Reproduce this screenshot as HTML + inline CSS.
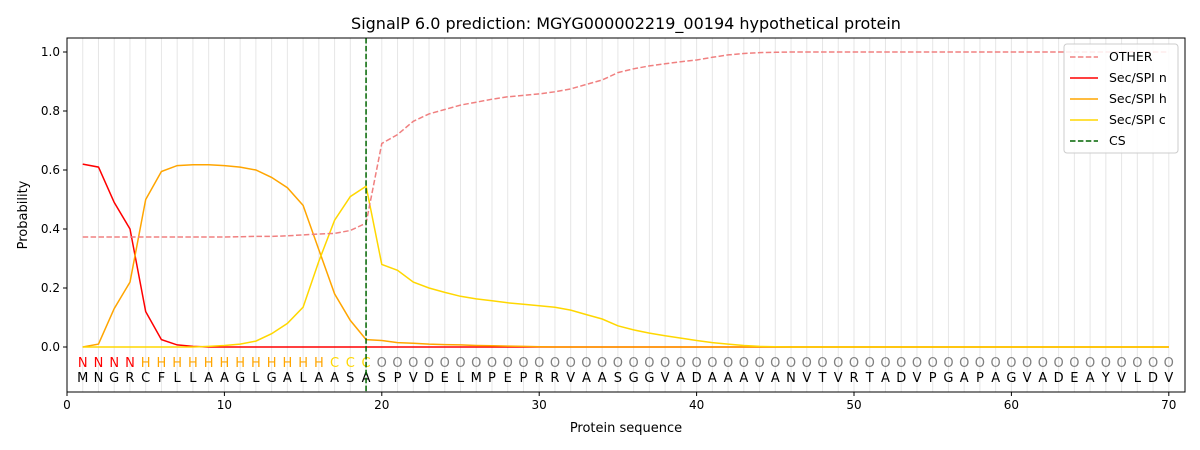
<!DOCTYPE html>
<html><head><meta charset="utf-8"><style>
body{margin:0;background:#fff;}
svg{display:block;font-family:"DejaVu Sans","Liberation Sans",sans-serif;}
</style></head><body>
<svg id="chart" width="1200" height="450"></svg>
<script>
const seq = "MNGRCFLLAAGLGALAASASPVDELMPEPRRVAASGGVADAAAVANVTVRTADVPGAPAGVADEAYVLDV".split("");
const labels = "NNNNHHHHHHHHHHHHCCC".split("").concat(Array(51).fill("O"));
const other = [0.373,0.373,0.373,0.373,0.373,0.373,0.373,0.373,0.373,0.373,0.374,0.375,0.375,0.377,0.38,0.383,0.385,0.395,0.42,0.69,0.72,0.765,0.79,0.805,0.82,0.83,0.84,0.848,0.853,0.858,0.865,0.875,0.89,0.905,0.93,0.943,0.953,0.96,0.967,0.973,0.982,0.99,0.995,0.998,0.999,1,1,1,1,1,1,1,1,1,1,1,1,1,1,1,1,1,1,1,1,1,1,1,1,1];
const secN = [0.62,0.61,0.49,0.40,0.12,0.025,0.007,0.002].concat(Array(62).fill(0));
const secH = [0,0.01,0.13,0.22,0.5,0.595,0.615,0.618,0.618,0.615,0.61,0.6,0.575,0.54,0.48,0.33,0.18,0.09,0.025,0.022,0.015,0.013,0.01,0.008,0.007,0.005,0.004,0.003,0.002,0.001].concat(Array(40).fill(0));
const secC = [0,0,0,0,0,0,0,0,0.002,0.005,0.01,0.02,0.045,0.08,0.135,0.29,0.43,0.51,0.545,0.28,0.26,0.22,0.2,0.185,0.172,0.163,0.157,0.15,0.145,0.14,0.135,0.125,0.11,0.095,0.072,0.058,0.047,0.038,0.03,0.022,0.015,0.01,0.005,0.002,0.001].concat(Array(25).fill(0));
const xTicks = [0,10,20,30,40,50,60,70];
const yTicks = [0,0.2,0.4,0.6,0.8,1.0];
const csPos = 19;

const L=67,R=1185,T=38,B=392;
const x = v => L + v*15.74;
const y = v => 347 - v*295;
const svg = document.getElementById('chart');
const NS="http://www.w3.org/2000/svg";
function mk(tag, attrs, parent){const e=document.createElementNS(NS,tag);for(const k in attrs)e.setAttribute(k,attrs[k]);(parent||svg).appendChild(e);return e;}

for(let i=1;i<=70;i++){
  const g=mk('line',{x1:x(i),x2:x(i),y1:T,y2:B,stroke:'#e6e6e6','stroke-width':1});
  
  
}
const t=mk('text',{x:626,y:29,'text-anchor':'middle','font-size':16,fill:'#000'});
t.textContent='SignalP 6.0 prediction: MGYG000002219_00194 hypothetical protein';



const lc={N:'#ff0000',H:'#ffa500',C:'#ffd700',O:'#808080'};
for(let i=0;i<70;i++){
  const a=mk('text',{x:x(i+1),y:367,'text-anchor':'middle','font-size':13,fill:lc[labels[i]]});
  a.textContent=labels[i];
  
  
  const b=mk('text',{x:x(i+1),y:382,'text-anchor':'middle','font-size':13,fill:'#000'});
  b.textContent=seq[i];
  
  
}

function line(data,color,dash,name){
  const pts=data.map((v,i)=>x(i+1).toFixed(1)+','+y(v).toFixed(1)).join(' ');
  const p=mk('polyline',{points:pts,fill:'none',stroke:color,'stroke-width':1.5});
  if(dash)p.setAttribute('stroke-dasharray',dash);
  
  
}
line(secN,'#ff0000',null,'sec-spi-n-line');
line(secH,'#ffa500',null,'sec-spi-h-line');
line(secC,'#ffd700',null,'sec-spi-c-line');
line(other,'#f08080','5.5,2.4','other-line');
const cs=mk('line',{x1:x(csPos),x2:x(csPos),y1:T,y2:B,stroke:'#006400','stroke-width':1.5,'stroke-dasharray':'5.5,2.4'});



const fr=mk('rect',{x:L,y:T,width:R-L,height:B-T,fill:'none',stroke:'#000','stroke-width':1});


xTicks.forEach(v=>{
  mk('line',{x1:x(v),x2:x(v),y1:B,y2:B+4,stroke:'#000'});
  const e=mk('text',{x:x(v),y:B+17,'text-anchor':'middle','font-size':12});
  e.textContent=v;
  
  
});
yTicks.forEach(v=>{
  mk('line',{x1:L-4,x2:L,y1:y(v),y2:y(v),stroke:'#000'});
  const e=mk('text',{x:L-7,y:y(v)+4,'text-anchor':'end','font-size':12});
  e.textContent=v.toFixed(1);
  
  
});
const xt=mk('text',{x:626,y:432,'text-anchor':'middle','font-size':13});
xt.textContent='Protein sequence';


const yt=mk('text',{x:27,y:215,'text-anchor':'middle','font-size':13,transform:'rotate(-90 27 215)'});
yt.textContent='Probability';



const lg=mk('g',{});


mk('rect',{x:1064,y:44,width:114,height:109,rx:3,fill:'#fff','fill-opacity':0.85,stroke:'#ccc'},lg);
const items=[['OTHER','#f08080',true],['Sec/SPI n','#ff0000',false],['Sec/SPI h','#ffa500',false],['Sec/SPI c','#ffd700',false],['CS','#006400',true]];
items.forEach((it,i)=>{
  const yy=57+i*21;
  const l=mk('line',{x1:1070,x2:1098,y1:yy,y2:yy,stroke:it[1],'stroke-width':1.5},lg);
  if(it[2])l.setAttribute('stroke-dasharray','5.5,2.4');
  const tx=mk('text',{x:1109,y:yy+4,'font-size':12.5},lg);
  tx.textContent=it[0];
  
  
});
</script>
</body></html>
